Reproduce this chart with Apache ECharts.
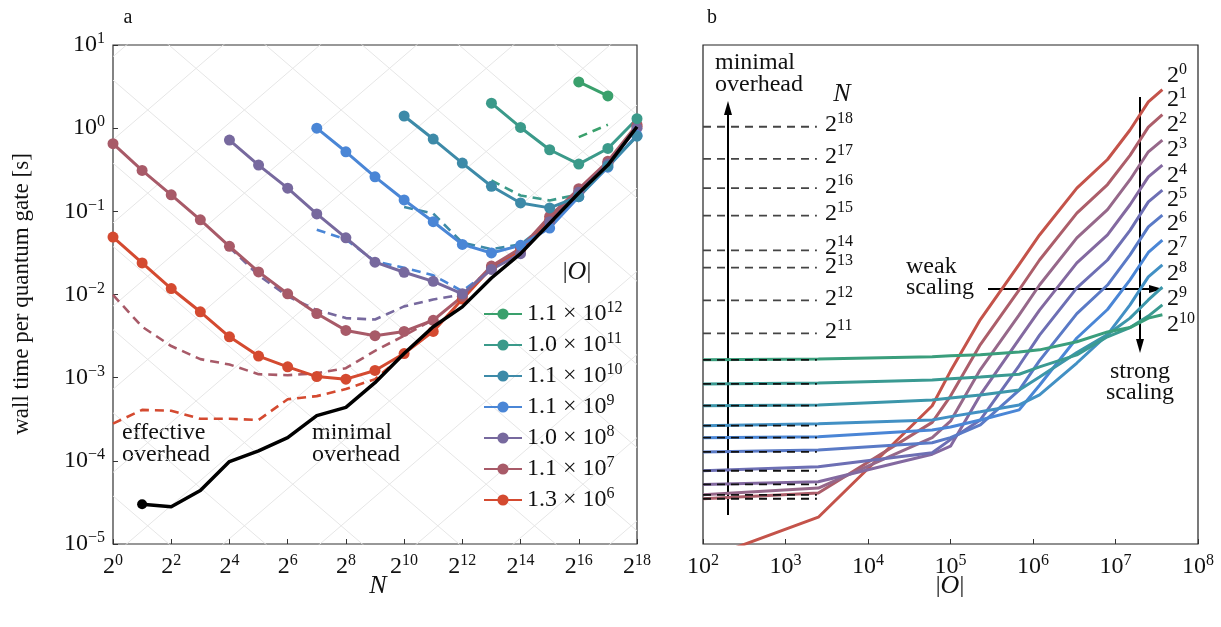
<!DOCTYPE html>
<html>
<head>
<meta charset="utf-8">
<script src="https://cdn.jsdelivr.net/npm/echarts@6/dist/echarts.min.js"></script>
<style>
  html, body { margin: 0; padding: 0; background: #fff; }
  #chart { width: 1221px; height: 627px; }
</style>
</head>
<body>
<div id="chart"></div>
<script>
// ---- panel a: wall time per gate vs N (N = 2^exp) ----
const nExponents = [0, 1, 2, 3, 4, 5, 6, 7, 8, 9, 10, 11, 12, 13, 14, 15, 16, 17, 18];
const opLabels = ['1.1e12', '1.0e11', '1.1e10', '1.1e9', '1.0e8', '1.1e7', '1.3e6'];
const opColors = ['#3aa06c', '#3b9a8a', '#3d8aa8', '#4a86d6', '#77699e', '#a85a68', '#d44a30'];
// first exponent of each series
const solidStart = [16, 13, 10, 7, 4, 0, 0];
const dashStart = [16, 13, 10, 7, 4, 0, 0];

const solid1p1e12 = [3.6, 2.44];
const solid1p0e11 = [2.0, 1.02, 0.55, 0.37, 0.57, 1.3];
const solid1p1e10 = [1.4, 0.74, 0.38, 0.20, 0.126, 0.11, 0.15, 0.35, 0.8];
const solid1p1e9 = [1.0, 0.52, 0.26, 0.137, 0.075, 0.040, 0.0316, 0.039, 0.063, 0.15, 0.34, 0.82];
const solid1p0e8 = [0.72, 0.36, 0.19, 0.093, 0.048, 0.0245, 0.0185, 0.0144, 0.0102, 0.02, 0.031, 0.075, 0.17, 0.37, 1.0];
const solid1p1e7 = [0.65, 0.31, 0.158, 0.079, 0.038, 0.0187, 0.0102, 0.0059, 0.0037, 0.0032, 0.0036, 0.0049, 0.0095, 0.022, 0.036, 0.087, 0.187, 0.40, 1.1];
const solid1p3e6 = [0.049, 0.024, 0.0118, 0.0062, 0.0031, 0.00182, 0.00135, 0.00103, 0.00096, 0.00122, 0.00195, 0.0036, 0.0088, 0.021, 0.034, 0.08, 0.17, 0.38, 1.05];

const dash1p1e12 = [0.78, 1.1];
const dash1p0e11 = [0.235, 0.155, 0.135, 0.16];
const dash1p1e10 = [0.113, 0.094, 0.042, 0.035, 0.04, 0.075];
const dash1p1e9 = [0.06, 0.046, 0.025, 0.021, 0.017, 0.011, 0.02];
const dash1p0e8 = [0.037, 0.017, 0.0095, 0.0065, 0.0052, 0.005, 0.0072, 0.0087, 0.0100];
const dash1p1e7 = [0.0099, 0.0041, 0.0024, 0.00167, 0.00144, 0.0011, 0.00107, 0.00113, 0.0013, 0.0021, 0.0032, 0.005];
const dash1p3e6 = [2.8e-4, 4.1e-4, 4.0e-4, 3.2e-4, 3.2e-4, 3.1e-4, 5.5e-4, 6.0e-4, 7.3e-4, 9.6e-4, 1.9e-3];

const minimalStart = 1;
const minimalOverhead = [3.0e-5, 2.8e-5, 4.4e-5, 9.8e-5, 1.32e-4, 1.9e-4, 3.5e-4, 4.4e-4, 8.7e-4, 1.95e-3, 4.1e-3, 7.1e-3, 0.0158, 0.031, 0.072, 0.166, 0.36, 1.04];

const solidSets = [solid1p1e12, solid1p0e11, solid1p1e10, solid1p1e9, solid1p0e8, solid1p1e7, solid1p3e6];
const dashSets = [dash1p1e12, dash1p0e11, dash1p1e10, dash1p1e9, dash1p0e8, dash1p1e7, dash1p3e6];

// ---- panel b: wall time vs |O| for N = 2^0 .. 2^10 ----
const opCounts = [1e2, 2.5e3, 6e4, 1e5, 2.3e5, 6.8e5, 1.2e6, 3.4e6, 8e6, 1.5e7, 2.5e7, 3.7e7];
const wallN1 = [6.5e-6, 2.1e-5, 4.6e-4, 1.2e-3, 5.0e-3, 0.023, 0.052, 0.19, 0.42, 0.95, 2.07, 2.9];
const wallN2 = [3.5e-5, 4.1e-5, 2.9e-4, 6.0e-4, 2.5e-3, 0.0114, 0.026, 0.095, 0.21, 0.47, 1.03, 1.45];
const wallN4 = [3.9e-5, 4.7e-5, 1.9e-4, 3.0e-4, 1.25e-3, 5.7e-3, 0.013, 0.048, 0.105, 0.24, 0.52, 0.72];
const wallN8 = [5.2e-5, 5.6e-5, 1.2e-4, 1.5e-4, 6.2e-4, 2.9e-3, 6.5e-3, 0.024, 0.052, 0.12, 0.26, 0.36];
const wallN16 = [7.6e-5, 8.5e-5, 1.25e-4, 1.8e-4, 3.1e-4, 1.4e-3, 3.25e-3, 0.012, 0.026, 0.059, 0.13, 0.18];
const wallN32 = [1.28e-4, 1.35e-4, 1.65e-4, 1.9e-4, 2.7e-4, 7.1e-4, 1.6e-3, 5.9e-3, 0.013, 0.03, 0.065, 0.09];
const wallN64 = [1.9e-4, 1.95e-4, 2.35e-4, 2.55e-4, 3.1e-4, 4.1e-4, 8.1e-4, 3.0e-3, 6.6e-3, 0.015, 0.032, 0.045];
const wallN128 = [2.65e-4, 2.8e-4, 3.1e-4, 3.4e-4, 3.9e-4, 4.7e-4, 6.2e-4, 1.5e-3, 3.3e-3, 7.5e-3, 0.0163, 0.0227];
const wallN256 = [4.6e-4, 4.7e-4, 5.4e-4, 5.7e-4, 6.2e-4, 7.1e-4, 1.02e-3, 2.0e-3, 3.3e-3, 5.2e-3, 8.6e-3, 0.0123];
const wallN512 = [8.4e-4, 8.6e-4, 9.4e-4, 9.7e-4, 1.02e-3, 1.1e-3, 1.35e-3, 1.88e-3, 3.1e-3, 4.0e-3, 5.5e-3, 7.5e-3];
const wallN1024 = [1.64e-3, 1.68e-3, 1.78e-3, 1.83e-3, 1.88e-3, 2.04e-3, 2.16e-3, 2.7e-3, 3.55e-3, 4.0e-3, 5.2e-3, 5.7e-3];
const wallSets = [wallN1, wallN2, wallN4, wallN8, wallN16, wallN32, wallN64, wallN128, wallN256, wallN512, wallN1024];
const wallColors = ['#c4534a', '#ac5e6a', '#96688a', '#8369a0', '#6d6fb4', '#5a7ac6', '#4a86d6', '#4290c4', '#3c96aa', '#3a9a92', '#3a9e7c'];

// minimal overhead per N = 2^1 .. 2^18, drawn as dashed level lines
const levelExponents = [1, 2, 3, 4, 5, 6, 7, 8, 9, 10, 11, 12, 13, 14, 15, 16, 17, 18];
const levelValues = [3.5e-5, 3.9e-5, 5.2e-5, 7.6e-5, 1.28e-4, 1.9e-4, 2.65e-4, 4.6e-4, 8.4e-4, 1.64e-3, 3.4e-3, 8.5e-3, 0.021, 0.034, 0.089, 0.19, 0.427, 1.04];
const levelRange = [1e2, 2.4e3];

const FONT = 'Liberation Serif';
const supRich = {
  b: { fontFamily: FONT, fontSize: 24, lineHeight: 28, color: '#111' },
  s: { fontFamily: FONT, fontSize: 16, lineHeight: 16, verticalAlign: 'top', color: '#111' },
  i: { fontFamily: FONT, fontSize: 26, lineHeight: 28, fontStyle: 'italic', color: '#111' }
};
function pow(base, e) { return '{b|' + base + '}{s|' + String(e).replace('-', '\u2212') + '}'; }

const chartDom = document.getElementById('chart');
const myChart = echarts.init(chartDom);

let series = [];

// background diagonal guides in panel a (slopes +1 and -1 in log-log)
const nMax = Math.pow(2, 18);
for (let k = -11; k <= 2; k++) {
  const c = Math.pow(10, k - 0.14);
  series.push({ type: 'line', xAxisIndex: 0, yAxisIndex: 0, silent: true, symbol: 'none', z: 1,
    lineStyle: { color: '#e6e6e6', width: 1 }, data: [[1, c], [nMax, c * nMax]] });
}
for (let k = -6; k <= 7; k++) {
  const c = Math.pow(10, k + 0.578);
  series.push({ type: 'line', xAxisIndex: 0, yAxisIndex: 0, silent: true, symbol: 'none', z: 1,
    lineStyle: { color: '#e6e6e6', width: 1 }, data: [[1, c], [nMax, c / nMax]] });
}

function onN(start, values) {
  return values.map((v, i) => [Math.pow(2, nExponents[start + i]), v]);
}

opLabels.forEach((name, i) => {
  series.push({
    name: 'dash' + name, type: 'line', xAxisIndex: 0, yAxisIndex: 0, symbol: 'none', z: 3,
    lineStyle: { color: opColors[i], width: 2.6, type: [9, 6] },
    data: onN(dashStart[i], dashSets[i])
  });
});
opLabels.slice().reverse().forEach((name) => {
  const i = opLabels.indexOf(name);
  series.push({
    name: name, type: 'line', xAxisIndex: 0, yAxisIndex: 0, symbol: 'circle', symbolSize: 11, z: 4,
    color: opColors[i],
    lineStyle: { color: opColors[i], width: 3 },
    itemStyle: { color: opColors[i] },
    data: onN(solidStart[i], solidSets[i])
  });
});
series.push({
  name: 'minimal', type: 'line', xAxisIndex: 0, yAxisIndex: 0, z: 6,
  symbol: 'circle', symbolSize: (v, p) => (p.dataIndex === 0 ? 10 : 0),
  lineStyle: { color: '#000', width: 3.5 }, itemStyle: { color: '#000' },
  data: onN(minimalStart, minimalOverhead)
});

// panel b
wallSets.forEach((vals, k) => {
  series.push({
    name: 'N2^' + k, type: 'line', xAxisIndex: 1, yAxisIndex: 1, symbol: 'none', z: 3,
    lineStyle: { color: wallColors[k], width: 3 },
    data: opCounts.map((o, j) => [o, vals[j]])
  });
});
levelExponents.forEach((e, j) => {
  series.push({
    name: 'lvl' + e, type: 'line', xAxisIndex: 1, yAxisIndex: 1, symbol: 'none', z: 5,
    lineStyle: { color: e > 10 ? '#444' : '#111', width: 1.8, type: [8, 6] },
    data: levelRange.map((o) => [o, levelValues[j]])
  });
});

const txt = (x, y, text, extra) => ({
  type: 'text', x: x, y: y,
  style: Object.assign({ text: text, font: '24px ' + FONT, fill: '#111', textVerticalAlign: 'middle' }, extra || {})
});

const option = {
  animation: false,
  backgroundColor: '#fff',
  grid: [
    { left: 113, top: 45, width: 524, height: 499, show: true, borderColor: '#333', borderWidth: 1.2 },
    { left: 703, top: 45, width: 495, height: 499, show: true, borderColor: '#222', borderWidth: 1.2 }
  ],
  xAxis: [
    { type: 'log', logBase: 2, gridIndex: 0, min: 1, max: nMax, interval: 2,
      axisLine: { show: false }, splitLine: { show: false },
      axisTick: { inside: true, length: 5, lineStyle: { color: '#333' } },
      axisLabel: { margin: 9, rich: supRich, formatter: (v) => pow(2, Math.round(Math.log2(v))) } },
    { type: 'log', logBase: 10, gridIndex: 1, min: 1e2, max: 1e8, interval: 1,
      axisLine: { show: false }, splitLine: { show: false },
      axisTick: { inside: true, length: 5, lineStyle: { color: '#333' } },
      axisLabel: { margin: 9, rich: supRich, formatter: (v) => pow(10, Math.round(Math.log10(v))) } }
  ],
  yAxis: [
    { type: 'log', logBase: 10, gridIndex: 0, min: 1e-5, max: 10, interval: 1,
      axisLine: { show: false }, splitLine: { show: false },
      axisTick: { inside: true, length: 5, lineStyle: { color: '#333' } },
      axisLabel: { margin: 8, rich: supRich, formatter: (v) => pow(10, Math.round(Math.log10(v))) } },
    { type: 'log', logBase: 10, gridIndex: 1, min: 1e-5, max: 10,
      axisLine: { show: false }, splitLine: { show: false },
      axisTick: { show: false }, axisLabel: { show: false } }
  ],
  legend: {
    data: opLabels,
    orient: 'vertical', left: 478, top: 295,
    itemWidth: 38, itemHeight: 14, itemGap: 5,
    selectedMode: false,
    textStyle: { fontFamily: FONT, fontSize: 24, color: '#111', rich: supRich },
    formatter: (name) => {
      const parts = name.split('e');
      return '{b|' + parts[0] + ' \u00d7 10}{s|' + parts[1] + '}';
    }
  },
  series: series,
  graphic: [
    txt(128, 18, 'a', { font: '20px ' + FONT, textAlign: 'center' }),
    txt(712, 18, 'b', { font: '20px ' + FONT, textAlign: 'center' }),
    { type: 'text', x: 22, y: 294, rotation: Math.PI / 2, style: { text: 'wall time per quantum gate [s]', font: '23px ' + FONT, fill: '#111', textAlign: 'center', textVerticalAlign: 'middle' } },
    txt(378, 586, 'N', { font: 'italic 26px ' + FONT, textAlign: 'center' }),
    txt(950, 586, '{b||}{i|O}{b||}', { rich: supRich, textAlign: 'center' }),
    txt(577, 272, '{b||}{i|O}{b||}', { rich: supRich, textAlign: 'center' }),
    txt(122, 433, 'effective'),
    txt(122, 455, 'overhead'),
    txt(312, 433, 'minimal'),
    txt(312, 455, 'overhead'),
    // panel b annotations
    txt(715, 63, 'minimal'),
    txt(715, 85, 'overhead'),
    txt(842, 94, 'N', { font: 'italic 26px ' + FONT, textAlign: 'center' }),
    { type: 'line', shape: { x1: 728, y1: 515, x2: 728, y2: 112 }, style: { stroke: '#000', lineWidth: 2 } },
    { type: 'polygon', shape: { points: [[728, 101], [724, 115], [732, 115]] }, style: { fill: '#000' } },
    txt(906, 267, 'weak'),
    txt(906, 288, 'scaling'),
    { type: 'line', shape: { x1: 988, y1: 289, x2: 1152, y2: 289 }, style: { stroke: '#000', lineWidth: 2 } },
    { type: 'polygon', shape: { points: [[1163, 289], [1149, 285], [1149, 293]] }, style: { fill: '#000' } },
    { type: 'line', shape: { x1: 1140, y1: 97, x2: 1140, y2: 342 }, style: { stroke: '#000', lineWidth: 2 } },
    { type: 'polygon', shape: { points: [[1140, 353], [1136, 339], [1144, 339]] }, style: { fill: '#000' } },
    txt(1140, 372, 'strong', { textAlign: 'center' }),
    txt(1140, 393, 'scaling', { textAlign: 'center' })
  ]
};

// level labels 2^11..2^18 and curve labels 2^0..2^10
const levelLabelY = { 11: 332, 12: 299, 13: 267, 14: 248, 15: 214, 16: 187, 17: 157, 18: 125 };
Object.keys(levelLabelY).forEach((e) => {
  option.graphic.push(txt(825, levelLabelY[e], pow(2, e), { rich: supRich }));
});
const curveLabelY = [76, 100, 125, 150, 176, 200, 224, 249, 274, 299, 325];
curveLabelY.forEach((y, k) => {
  option.graphic.push(txt(1167, y, pow(2, k), { rich: supRich }));
});

myChart.setOption(option);
window.onresize = () => { myChart.resize(); };
</script>
</body>
</html>
